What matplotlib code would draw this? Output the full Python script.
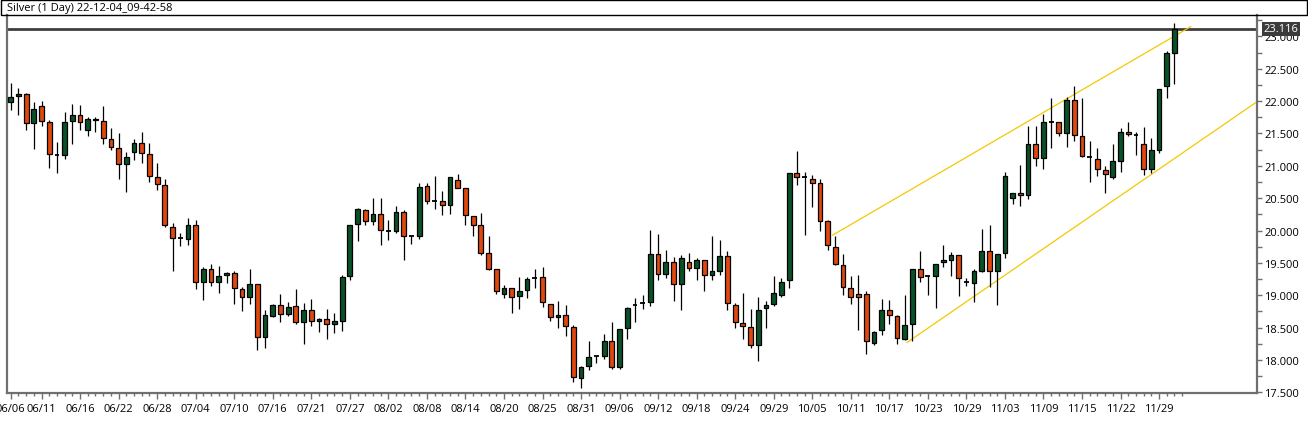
import matplotlib
matplotlib.use("Agg")
import matplotlib.pyplot as plt
from matplotlib.patches import Rectangle
from matplotlib.transforms import blended_transform_factory
from matplotlib.ticker import FixedLocator, MultipleLocator

plt.rcParams['font.family'] = ['Open Sans', 'DejaVu Sans']

title = "Silver (1 Day) 22-12-04_09-42-58"

opens = [21.98, 22.08, 22.11, 21.66, 21.92, 21.68, 21.17, 21.16, 21.69, 21.78,
         21.56, 21.71, 21.69, 21.42, 21.27, 21.03, 21.21, 21.35, 21.19, 20.83,
         20.71, 20.06, 19.89, 19.87, 20.08, 19.20, 19.40, 19.21, 19.31, 19.34,
         19.10, 18.98, 19.18, 18.35, 18.68, 18.85, 18.71, 18.83, 18.58, 18.77,
         18.60, 18.63, 18.55, 18.61, 19.29, 20.10, 20.31, 20.15, 20.25, 20.00,
         20.00, 20.29, 19.91, 19.92, 20.69, 20.46, 20.46, 20.39, 20.78, 20.65,
         20.23, 20.08, 19.65, 19.40, 19.02, 19.11, 18.99, 19.08, 19.27, 19.28,
         18.86, 18.66, 18.69, 18.51, 17.72, 17.91, 18.06, 18.06, 18.29, 17.89,
         18.49, 18.85, 18.88, 18.89, 19.64, 19.33, 19.51, 19.18, 19.52, 19.42,
         19.55, 19.31, 19.38, 19.60, 18.85, 18.57, 18.51, 18.23, 18.80, 18.86,
         19.00, 19.23, 20.89, 20.82, 20.80, 20.73, 20.14, 19.74, 19.47, 19.11,
         19.02, 19.02, 18.26, 18.46, 18.77, 18.68, 18.33, 18.55, 19.40, 19.29,
         19.30, 19.51, 19.55, 19.62, 19.21, 19.19, 19.38, 19.69, 19.37, 19.65,
         20.50, 20.58, 20.55, 21.33, 21.12, 21.68, 21.67, 21.51, 22.02, 21.46,
         21.13, 21.10, 20.94, 20.82, 21.08, 21.53, 21.48, 21.34, 20.95, 21.25,
         22.24, 22.74]
highs = [22.28, 22.20, 22.13, 21.98, 22.00, 21.71, 21.37, 21.83, 21.95, 21.94,
         21.75, 21.75, 21.93, 21.59, 21.50, 21.21, 21.42, 21.53, 21.36, 21.05,
         20.80, 20.11, 19.96, 20.20, 20.17, 19.43, 19.48, 19.45, 19.36, 19.37,
         19.13, 19.40, 19.18, 18.77, 18.87, 19.02, 18.90, 19.10, 18.88, 18.94,
         18.65, 18.79, 18.73, 19.31, 20.09, 20.35, 20.33, 20.50, 20.50, 20.17,
         20.38, 20.31, 19.92, 20.73, 20.73, 20.85, 20.61, 20.83, 20.87, 20.65,
         20.23, 20.27, 19.92, 19.40, 19.16, 19.11, 19.28, 19.28, 19.40, 19.43,
         18.86, 18.91, 18.85, 18.54, 17.91, 18.30, 18.06, 18.40, 18.59, 18.48,
         18.82, 18.95, 19.00, 20.01, 19.94, 19.70, 19.59, 19.62, 19.65, 19.57,
         19.55, 19.91, 19.85, 19.69, 18.88, 19.04, 18.79, 18.97, 18.91, 19.30,
         19.26, 20.89, 21.23, 20.91, 20.86, 20.80, 20.16, 19.92, 19.63, 19.30,
         19.32, 19.06, 18.45, 18.94, 18.93, 18.69, 19.01, 19.41, 19.68, 19.29,
         19.49, 19.77, 19.67, 19.62, 19.27, 19.41, 20.02, 20.09, 19.63, 20.91,
         20.58, 21.01, 21.62, 21.61, 21.80, 22.05, 21.67, 22.07, 22.23, 22.04,
         21.38, 21.27, 21.00, 21.33, 21.59, 21.67, 21.52, 21.60, 21.43, 22.19,
         22.77, 23.21]
lows = [21.86, 21.79, 21.55, 21.26, 21.62, 20.96, 20.89, 21.10, 21.33, 21.56,
        21.46, 21.53, 21.33, 21.24, 20.80, 20.60, 21.09, 21.04, 20.75, 20.62,
        20.05, 19.38, 19.76, 19.78, 19.10, 18.92, 19.14, 19.03, 19.19, 18.87,
        18.75, 18.87, 18.15, 18.19, 18.66, 18.58, 18.68, 18.55, 18.24, 18.52,
        18.43, 18.32, 18.42, 18.45, 19.24, 19.84, 20.09, 20.09, 19.78, 19.86,
        19.96, 19.55, 19.79, 19.87, 20.41, 20.34, 20.24, 20.26, 20.66, 20.09,
        19.92, 19.62, 19.39, 19.02, 18.96, 18.72, 18.79, 18.96, 19.11, 18.82,
        18.60, 18.50, 18.37, 17.66, 17.57, 17.85, 17.95, 18.02, 17.86, 17.86,
        18.33, 18.58, 18.79, 18.84, 19.24, 19.27, 18.91, 18.78, 19.37, 19.23,
        19.07, 19.24, 19.32, 18.78, 18.49, 18.33, 18.18, 17.98, 18.50, 18.83,
        18.98, 19.11, 20.70, 19.93, 20.36, 19.99, 19.70, 19.46, 19.01, 18.87,
        18.46, 18.10, 18.23, 18.39, 18.55, 18.24, 18.31, 18.29, 19.21, 19.01,
        18.80, 19.43, 19.29, 18.99, 19.14, 18.90, 19.36, 19.12, 18.85, 19.58,
        20.41, 20.38, 20.49, 21.00, 20.95, 21.28, 21.46, 21.29, 21.38, 21.14,
        20.75, 20.85, 20.58, 20.80, 20.91, 21.46, 21.16, 20.86, 20.89, 21.20,
        22.05, 22.27]
closes = [22.06, 22.11, 21.66, 21.88, 21.69, 21.18, 21.17, 21.68, 21.78, 21.68,
          21.72, 21.72, 21.43, 21.29, 21.03, 21.14, 21.35, 21.20, 20.85, 20.72,
          20.08, 19.89, 19.89, 20.08, 19.20, 19.40, 19.21, 19.29, 19.34, 19.11,
          18.98, 19.18, 18.35, 18.69, 18.85, 18.71, 18.82, 18.58, 18.77, 18.60,
          18.63, 18.55, 18.60, 19.28, 20.09, 20.34, 20.15, 20.25, 20.01, 20.00,
          20.29, 19.91, 19.91, 20.68, 20.46, 20.46, 20.39, 20.83, 20.66, 20.24,
          20.09, 19.66, 19.41, 19.06, 19.11, 18.98, 19.06, 19.25, 19.27, 18.90,
          18.66, 18.69, 18.52, 17.73, 17.89, 18.05, 18.06, 18.29, 17.89, 18.48,
          18.81, 18.85, 18.88, 19.64, 19.33, 19.51, 19.18, 19.57, 19.42, 19.54,
          19.31, 19.37, 19.60, 18.88, 18.58, 18.52, 18.23, 18.78, 18.85, 19.03,
          19.21, 20.89, 20.82, 20.82, 20.74, 20.14, 19.77, 19.49, 19.12, 18.98,
          18.98, 18.29, 18.44, 18.77, 18.69, 18.34, 18.54, 19.41, 19.28, 19.29,
          19.49, 19.54, 19.62, 19.26, 19.21, 19.37, 19.69, 19.37, 19.63, 20.85,
          20.58, 20.55, 21.33, 21.12, 21.67, 21.68, 21.51, 22.02, 21.48, 21.15,
          21.13, 20.95, 20.87, 21.08, 21.52, 21.49, 21.48, 20.95, 21.25, 22.19,
          22.74, 23.12]

date_labels = ['06/06', '06/11', '06/16', '06/22', '06/28', '07/04', '07/10', '07/16',
               '07/21', '07/27', '08/02', '08/08', '08/14', '08/20', '08/25', '08/31',
               '09/06', '09/12', '09/18', '09/24', '09/29', '10/05', '10/11', '10/17',
               '10/23', '10/29', '11/03', '11/09', '11/15', '11/22', '11/29']
date_label_bars = [0] + [4 + 5 * k for k in range(30)]

last_price = 23.116
upper_line_x = [106.66, 153.1]
upper_line_y = [19.93, 23.15]
lower_line_x = [116.3, 161.7]
lower_line_y = [18.27, 21.99]

GREEN = '#0b5128'
RED = '#e1480f'
AXC = '#6f6f6f'

W, H = 1308, 435
fig = plt.figure(figsize=(W / 100, H / 100), dpi=100)
ax = fig.add_axes([6.5 / W, 41 / H, 1250 / W, 378 / H])

n = len(opens)
xs = list(range(n))
bw = 0.62
for i in xs:
    o, h, l, c = opens[i], highs[i], lows[i], closes[i]
    ax.vlines(i, l, h, color='black', lw=0.9, zorder=3)
    if abs(c - o) < 1e-9:
        ax.hlines(o, i - bw / 2, i + bw / 2, color='black', lw=1.3, zorder=4)
    else:
        col = GREEN if c > o else RED
        ax.bar(i, abs(c - o), bottom=min(o, c), width=bw, color=col,
               edgecolor='black', linewidth=0.9, zorder=4)

ax.axhline(last_price, color='#3f3f3f', lw=2.0, zorder=2)
ax.plot(upper_line_x, upper_line_y, color='#f5c800', lw=0.9, zorder=2)
ax.plot(lower_line_x, lower_line_y, color='#f5c800', lw=0.9, zorder=2)

ax.set_xlim(-0.545, 161.64)
ax.set_ylim(17.49, 23.33)

for s in ['left', 'bottom', 'right']:
    ax.spines[s].set_color(AXC)
    ax.spines[s].set_linewidth(1.6)
ax.spines['top'].set_visible(False)

ax.xaxis.set_major_locator(FixedLocator(date_label_bars))
ax.set_xticklabels(date_labels)
ax.xaxis.set_minor_locator(FixedLocator(list(range(0, n + 1))))
ax.tick_params(axis='x', which='major', length=4.5, width=1, color=AXC,
               labelsize=8, pad=3)
ax.tick_params(axis='x', which='minor', length=2.5, width=1, color=AXC)

ax.yaxis.tick_right()
yt = [17.5 + 0.5 * k for k in range(12)]
ax.yaxis.set_major_locator(FixedLocator(yt))
ax.set_yticklabels(['%.3f' % v for v in yt])
ax.yaxis.set_minor_locator(MultipleLocator(0.25))
ax.tick_params(axis='y', which='major', length=3.5, width=1, color=AXC,
               labelsize=8, pad=2)
ax.tick_params(axis='y', which='minor', length=3.5, width=1, color=AXC)

tr = blended_transform_factory(ax.transAxes, ax.transData)
ax.text(1 + 7 / 1250, last_price, '%.3f' % last_price, transform=tr,
        ha='left', va='center', color='white', fontsize=8, clip_on=False,
        zorder=10,
        bbox=dict(boxstyle='square,pad=0.12', facecolor='#3c3c3c',
                  edgecolor='none'))

fig.add_artist(Rectangle((0.5 / W, (H - 15.5) / H), 1306.5 / W, 15 / H,
                         transform=fig.transFigure, fill=False,
                         edgecolor='black', lw=1.0))
fig.text(7 / W, (H - 8) / H, title, ha='left', va='center', fontsize=8)

fig.savefig('out.png', dpi=100)
